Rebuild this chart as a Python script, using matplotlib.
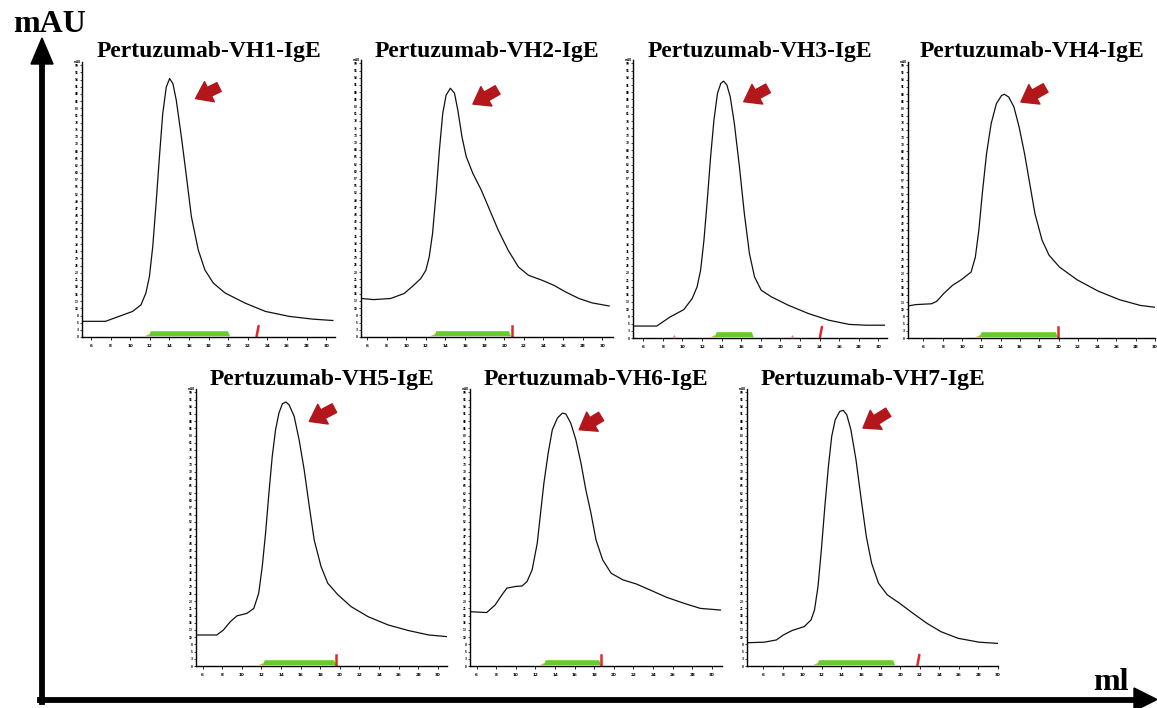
import numpy as np
import matplotlib.pyplot as plt

W, H = 1157, 708
plt.rcParams['font.family'] = ['Liberation Serif', 'DejaVu Serif']

titles = ["Pertuzumab-VH1-IgE", "Pertuzumab-VH2-IgE", "Pertuzumab-VH3-IgE",
          "Pertuzumab-VH4-IgE", "Pertuzumab-VH5-IgE", "Pertuzumab-VH6-IgE",
          "Pertuzumab-VH7-IgE"]

# elution volume (tick units) / absorbance (% of axis height)
vh1_x = [-0.46, 0.74, 1.43, 2.12, 2.55, 2.80, 2.98, 3.15, 3.32, 3.49, 3.66, 3.84, 4.01,
         4.18, 4.35, 4.61, 4.87, 5.12, 5.47, 5.81, 6.24, 6.84, 7.87, 8.90, 10.11, 11.31, 12.34]
vh1_y = [5.7, 5.7, 7.5, 9.3, 11.7, 16.0, 22.0, 32.9, 48.6, 65.5, 81.3, 90.9, 94.0,
         92.1, 86.1, 72.8, 58.3, 43.8, 31.7, 24.4, 19.6, 16.0, 12.3, 9.3, 7.5, 6.5, 6.0]

vh2_x = [-0.31, 0.34, 1.20, 1.89, 2.32, 2.74, 3.00, 3.17, 3.34, 3.52, 3.69, 3.86, 4.03,
         4.25, 4.46, 4.63, 4.84, 5.06, 5.40, 5.83, 6.26, 6.69, 7.20, 7.72, 8.23, 8.92,
         9.52, 10.12, 10.81, 11.49, 12.35]
vh2_y = [13.9, 13.5, 13.9, 15.7, 18.3, 21.1, 24.1, 28.9, 37.3, 51.8, 67.5, 80.7, 87.3,
         89.8, 88.0, 81.9, 72.3, 65.1, 59.0, 53.0, 45.8, 38.6, 31.3, 25.3, 22.3, 20.5,
         18.7, 16.3, 13.9, 12.3, 11.2]

vh3_x = [-0.52, 0.69, 1.38, 2.07, 2.50, 2.75, 2.93, 3.10, 3.27, 3.44, 3.61, 3.79, 3.96,
         4.10, 4.27, 4.44, 4.65, 4.91, 5.16, 5.42, 5.68, 6.02, 6.54, 7.40, 8.43, 9.47,
         10.50, 11.36, 12.31]
vh3_y = [4.3, 4.3, 7.6, 10.2, 14.2, 18.4, 24.4, 35.2, 49.6, 65.2, 78.4, 88.0, 91.6,
         92.4, 91.0, 86.8, 77.2, 61.6, 44.8, 30.4, 22.0, 17.2, 14.8, 11.8, 8.8, 6.4,
         4.9, 4.6, 4.6]

vh4_x = [-0.80, -0.40, 0.42, 0.69, 1.05, 1.51, 1.96, 2.47, 2.69, 2.87, 3.05, 3.27, 3.51,
         3.78, 4.05, 4.20, 4.42, 4.69, 4.96, 5.24, 5.51, 5.78, 6.15, 6.51, 7.05, 7.96,
         9.05, 10.15, 11.24, 12.15, 12.69]
vh4_y = [11.6, 12.1, 12.4, 13.3, 16.1, 19.1, 21.1, 23.9, 29.3, 39.0, 52.3, 66.8, 77.7,
         84.9, 87.9, 88.3, 87.3, 83.7, 76.4, 66.8, 55.9, 45.0, 35.4, 30.0, 25.7, 21.1,
         17.0, 13.9, 11.8, 11.0, 10.9]

vh5_x = [-0.34, 0.72, 1.06, 1.41, 1.75, 2.26, 2.61, 2.86, 3.04, 3.21, 3.38, 3.55, 3.72,
         3.89, 4.07, 4.24, 4.41, 4.67, 4.92, 5.18, 5.44, 5.69, 6.04, 6.38, 6.90, 7.58,
         8.44, 9.47, 10.50, 11.53, 12.47]
vh5_y = [11.2, 11.2, 13.0, 16.0, 18.1, 19.0, 20.8, 26.3, 35.9, 48.0, 62.4, 75.7, 85.3,
         91.3, 94.7, 95.3, 94.3, 90.1, 81.7, 70.8, 57.6, 45.5, 35.9, 29.9, 25.7, 21.4,
         17.8, 14.8, 12.8, 11.2, 10.6]

vh6_x = [-0.34, 0.51, 0.94, 1.29, 1.54, 1.97, 2.32, 2.57, 2.83, 3.09, 3.26, 3.43, 3.65,
         3.86, 4.12, 4.37, 4.55, 4.80, 5.06, 5.32, 5.57, 5.83, 6.09, 6.43, 6.86, 7.46,
         8.15, 8.83, 9.69, 10.55, 11.41, 12.44]
vh6_y = [19.6, 19.3, 22.0, 25.7, 28.1, 28.7, 28.9, 30.5, 34.7, 44.3, 55.2, 66.0, 76.9,
         85.3, 89.5, 91.3, 91.0, 87.7, 81.7, 73.3, 63.6, 55.2, 45.5, 38.3, 33.5, 31.1,
         29.6, 27.5, 24.8, 22.7, 20.8, 20.2]

vh7_x = [-0.83, 0.05, 0.67, 1.03, 1.47, 2.09, 2.44, 2.62, 2.80, 2.97, 3.15, 3.33, 3.50,
         3.68, 3.91, 4.09, 4.27, 4.48, 4.74, 5.01, 5.27, 5.54, 5.89, 6.34, 6.96, 7.66,
         8.37, 9.08, 9.96, 11.03, 12.35]
vh7_y = [8.4, 8.6, 9.4, 11.2, 12.8, 14.2, 16.6, 20.2, 28.7, 41.9, 57.6, 72.0, 82.9,
         88.9, 91.9, 92.3, 90.7, 85.3, 74.5, 60.0, 46.7, 37.1, 29.9, 25.7, 22.7, 19.0,
         15.4, 12.4, 10.0, 8.6, 8.0]

# collected fraction (green bar) start / end and injection mark (red)
frac_start = [3.00, 3.48, 3.70, 2.96, 3.12, 3.48, 2.80]
frac_end = [7.04, 7.29, 5.59, 6.91, 6.76, 6.30, 6.69]
inject_x = [8.50, 7.38, 9.07, 6.96, 6.81, 6.35, 7.93]
inject_slant = [True, False, True, False, False, False, True]
vh3_marks = [1.58, 7.57]

# arrow tail / head (x, y) pointing at the main peak
arrow_tail = [(6.53, 90.9), (6.66, 89.2), (6.37, 89.8), (6.33, 90.6),
              (6.72, 93.1), (6.35, 90.1), (6.39, 91.6)]
arrow_head = [(5.33, 86.7), (5.40, 84.1), (5.13, 85.0), (5.05, 85.5),
              (5.44, 88.3), (5.23, 85.3), (5.10, 85.9)]

x_tick_labels = ['6', '8', '10', '12', '14', '16', '18', '20', '22', '24', '26', '28', '30']

curves = [(vh1_x, vh1_y), (vh2_x, vh2_y), (vh3_x, vh3_y), (vh4_x, vh4_y),
          (vh5_x, vh5_y), (vh6_x, vh6_y), (vh7_x, vh7_y)]

# panel boxes in pixels: left, right, top, bottom
boxes = [(82, 335, 62, 337), (361, 613, 60, 337), (633, 887, 60, 338), (908, 1155, 62, 338),
         (196, 447, 389, 666), (470, 722, 389, 666), (747, 998, 389, 666)]
title_base = [57, 57, 57, 57, 385, 385, 385]

GREEN = '#66cc2e'
ORANGE = '#e8a040'
RED = '#e3262a'
DARK_RED = '#b3161b'

fig = plt.figure(figsize=(W / 100, H / 100), dpi=100)

for i, (xs, ys) in enumerate(curves):
    l, r, t, b = boxes[i]
    ax = fig.add_axes([l / W, 1 - b / H, (r - l) / W, (b - t) / H])
    ax.set_xlim(xs[0], xs[0] + (r - l) / 19.6)
    ax.set_ylim(0, 100)
    for s in ['top', 'right']:
        ax.spines[s].set_visible(False)
    for s in ['left', 'bottom']:
        ax.spines[s].set_linewidth(1.0)
    ax.plot(xs, ys, color='#111111', lw=0.9)

    # fraction bar
    x0, x1 = frac_start[i], frac_end[i]
    ax.fill([x0 - 0.25, x0 - 0.05, x0, x0], [0.3, 1.0, 1.0, 0.3], color=ORANGE, lw=0)
    ax.fill([x0 - 0.05, x0 + 0.05, x1 - 0.05, x1 + 0.05],
            [0.3, 2.1, 2.1, 0.3], color=GREEN, lw=0)
    xi = inject_x[i]
    if inject_slant[i]:
        ax.plot([xi - 0.05, xi + 0.05], [0.3, 4.0], color=RED, lw=1.8,
                solid_capstyle='round')
    else:
        ax.plot([xi, xi], [0.3, 4.1], color=RED, lw=1.8)
    if i == 2:
        ax.scatter(vh3_marks, [0.8] * len(vh3_marks), s=6, marker='^',
                   color='#d88a8a', lw=0, zorder=3)

    ax.annotate('', xy=arrow_head[i], xytext=arrow_tail[i],
                arrowprops=dict(arrowstyle='simple,head_width=1.15,head_length=0.8,tail_width=0.5',
                                color=DARK_RED, mutation_scale=14, shrinkA=0, shrinkB=0))

    ax.set_xticks(np.arange(len(x_tick_labels)))
    ax.set_xticklabels(x_tick_labels, fontsize=3, fontweight='bold', family='DejaVu Sans')
    yt = np.arange(0, 100, 2.6)
    ax.set_yticks(yt)
    ax.set_yticklabels([f'{v:.0f}' for v in yt], fontsize=2, fontweight='bold',
                       family='DejaVu Sans')
    ax.tick_params(axis='x', length=2, width=0.6, pad=3)
    ax.tick_params(axis='y', length=1.5, width=0.5, pad=1)
    ax.text(-0.005, 1.0, 'mAU', transform=ax.transAxes, fontsize=2, ha='right',
            va='center', fontweight='bold', family='DejaVu Sans')
    ax.patch.set_alpha(0)

    fig.text((l + r) / 2 / W, 1 - title_base[i] / H, titles[i], ha='center',
             va='baseline', fontsize=17, fontweight='bold')

# big axis arrows
fig.add_artist(plt.Line2D([42 / W, 42 / W], [1 - 702 / H, 1 - 60 / H], color='black', lw=4.2,
                          transform=fig.transFigure))
fig.add_artist(plt.Line2D([39.5 / W, 1140 / W], [1 - 699.5 / H, 1 - 699.5 / H], color='black',
                          lw=4.2, transform=fig.transFigure))
fig.add_artist(plt.Polygon([[31 / W, 1 - 64 / H], [53 / W, 1 - 64 / H], [42 / W, 1 - 38 / H]],
                           closed=True, color='black', transform=fig.transFigure))
fig.add_artist(plt.Polygon([[1134 / W, 1 - 688 / H], [1134 / W, 1 - 711 / H],
                            [1157 / W, 1 - 699.5 / H]],
                           closed=True, color='black', transform=fig.transFigure))

fig.text(13 / W, 1 - 32 / H, 'mAU', fontsize=23, fontweight='bold', va='baseline')
fig.text(1093 / W, 1 - 690 / H, 'ml', fontsize=23, fontweight='bold', va='baseline')

fig.savefig('out.png', dpi=100, facecolor='white')
